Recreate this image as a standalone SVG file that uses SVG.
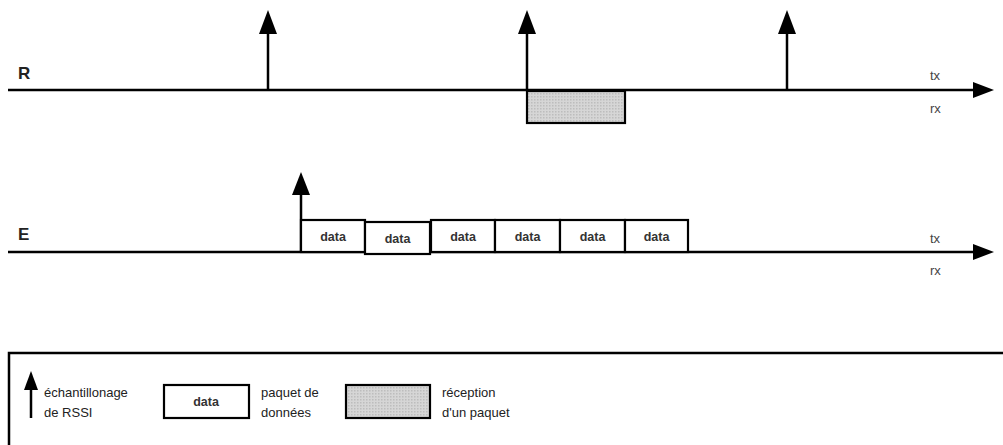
<svg xmlns="http://www.w3.org/2000/svg" width="1003" height="445" viewBox="0 0 1003 445">
<style>
.ln{stroke:#000;stroke-width:2.5;fill:none}
.bx{stroke:#000;stroke-width:2.2;fill:#fff}
.gr{stroke:#000;stroke-width:2.2;fill:url(#dots)}
.lbl{font-family:"Liberation Sans",Arial,sans-serif;font-weight:bold;font-size:17px;fill:#222}
.t{font-family:"Liberation Sans",Arial,sans-serif;font-size:13px;fill:#222}
.d{font-family:"Liberation Sans",Arial,sans-serif;font-weight:bold;font-size:12.5px;fill:#333;text-anchor:middle}
.ax{font-family:"Liberation Sans",Arial,sans-serif;font-size:13px;fill:#444}
.hd{fill:#000}
</style>
<defs>
<pattern id="dots" width="3" height="3" patternUnits="userSpaceOnUse">
<rect width="3" height="3" fill="#d6d6d6"/>
<rect x="0" y="0" width="1.5" height="1.5" fill="#bdbdbd"/>
</pattern>
</defs>
<g id="connectors">
<line class="ln" x1="8" y1="90" x2="975" y2="90"/>
<polygon class="hd" points="973,82 994,90 973,98"/>
<line class="ln" x1="8" y1="252" x2="975" y2="252"/>
<polygon class="hd" points="973,244 994,252 973,260"/>
<line class="ln" x1="268" y1="90" x2="268" y2="32"/>
<polygon class="hd" points="259,34 268,10 277,34"/>
<line class="ln" x1="527" y1="90" x2="527" y2="32"/>
<polygon class="hd" points="518,34 527,10 536,34"/>
<line class="ln" x1="787" y1="90" x2="787" y2="32"/>
<polygon class="hd" points="778,34 787,10 796,34"/>
<line class="ln" x1="301" y1="252" x2="301" y2="193"/>
<polygon class="hd" points="292,195 301,172 310,195"/>
</g>
<g id="R">
<text class="lbl" x="18" y="79">R</text>
<text class="ax" x="930" y="80">tx</text>
<text class="ax" x="930" y="113">rx</text>
<rect class="gr" x="527" y="91" width="98" height="32"/>
</g>
<g id="E">
<text class="lbl" x="18" y="240">E</text>
<text class="ax" x="930" y="243">tx</text>
<text class="ax" x="930" y="275">rx</text>
</g>
<g id="data1"><rect class="bx" x="301" y="220" width="64" height="32"/><text class="d" x="333" y="241">data</text></g>
<g id="data2"><rect class="bx" x="365" y="222" width="65" height="32"/><text class="d" x="397.5" y="243">data</text></g>
<g id="data3"><rect class="bx" x="431" y="220" width="64" height="32"/><text class="d" x="463" y="241">data</text></g>
<g id="data4"><rect class="bx" x="495" y="220" width="65" height="32"/><text class="d" x="527.5" y="241">data</text></g>
<g id="data5"><rect class="bx" x="560" y="220" width="65" height="32"/><text class="d" x="592.5" y="241">data</text></g>
<g id="data6"><rect class="bx" x="625" y="220" width="63" height="32"/><text class="d" x="656.5" y="241">data</text></g>
<g id="legend">
<rect x="9" y="353" width="1010" height="110" fill="none" stroke="#000" stroke-width="2.5"/>
<line class="ln" x1="31" y1="418" x2="31" y2="388"/>
<polygon class="hd" points="24,390 31,371 38,390"/>
<text class="t" x="44" y="397">échantillonage</text>
<text class="t" x="44" y="417">de RSSI</text>
<rect class="bx" x="164" y="385" width="85" height="33"/>
<text class="d" x="206" y="406">data</text>
<text class="t" x="261" y="397">paquet de</text>
<text class="t" x="261" y="417">données</text>
<rect class="gr" x="346" y="385" width="84" height="33"/>
<text class="t" x="442" y="397">réception</text>
<text class="t" x="442" y="417">d'un paquet</text>
</g>
</svg>
